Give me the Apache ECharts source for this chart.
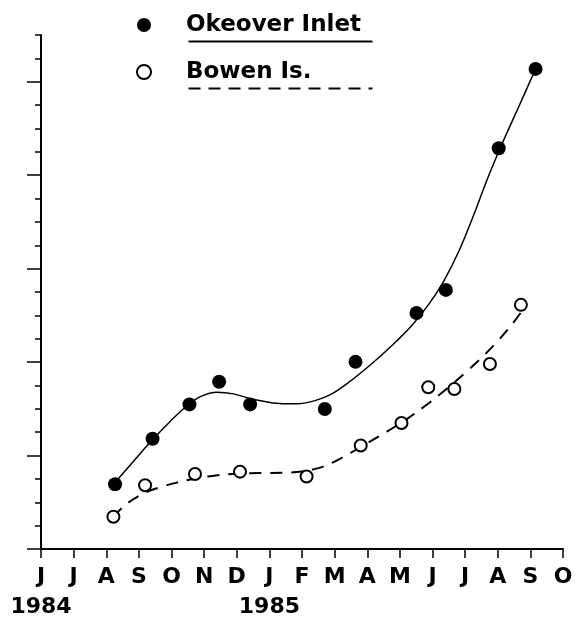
<!DOCTYPE html>
<html>
<head>
<meta charset="utf-8">
<script src="https://cdn.jsdelivr.net/npm/echarts@6/dist/echarts.min.js"></script>
<style>
html,body{margin:0;padding:0;background:#fff;}
#chart{width:576px;height:623px;}
</style>
</head>
<body>
<div id="chart"></div>
<script>
// Month ticks: index 0 = June 1984 ... index 16 = October 1985
const monthLabels = ['J','J','A','S','O','N','D','J','F','M','A','M','J','J','A','S','O'];
const yearTickValues = [0, 7];
const yearLabels = ['1984', '1985'];
const yMajorTicks = [0, 4, 8, 12, 16, 20];

// Observed points [month index, value]
const okeoverPoints = [
  [2.27, 2.77], [3.42, 4.72], [4.55, 6.19], [5.46, 7.16], [6.41, 6.19],
  [8.70, 5.99], [9.64, 8.01], [11.51, 10.10], [12.41, 11.09], [14.03, 17.15], [15.16, 20.55]
];
const bowenPoints = [
  [2.22, 1.38], [3.19, 2.73], [4.72, 3.21], [6.10, 3.31], [8.14, 3.10],
  [9.80, 4.43], [11.05, 5.39], [11.87, 6.92], [12.67, 6.85], [13.76, 7.92], [14.71, 10.45]
];

// Fitted curves
const okeoverCurve = [
  [2.27, 2.85], [2.85, 3.78], [3.40, 4.65], [3.95, 5.45], [4.45, 6.10], [4.90, 6.53],
  [5.40, 6.71], [5.90, 6.64], [6.40, 6.44], [6.90, 6.30], [7.40, 6.22], [7.90, 6.22],
  [8.40, 6.35], [8.90, 6.63], [9.40, 7.10], [9.90, 7.65], [10.40, 8.25], [10.90, 8.90],
  [11.40, 9.62], [11.90, 10.50], [12.35, 11.48], [12.80, 12.72], [13.25, 14.25],
  [13.70, 15.90], [14.15, 17.40], [14.65, 18.95], [15.16, 20.55]
];
const bowenCurve = [
  [2.21, 1.37], [2.50, 1.78], [2.84, 2.14], [3.20, 2.42], [3.60, 2.62], [4.10, 2.82],
  [4.70, 3.01], [5.30, 3.14], [6.00, 3.22], [6.70, 3.25], [7.40, 3.26], [8.00, 3.32],
  [8.50, 3.46], [9.00, 3.74], [9.50, 4.12], [10.00, 4.53], [10.60, 5.02], [11.20, 5.55],
  [11.80, 6.15], [12.40, 6.82], [13.00, 7.54], [13.50, 8.18], [14.00, 8.90],
  [14.40, 9.55], [14.70, 10.10]
];

const FONT = 'DejaVu Sans';
const chart = echarts.init(document.getElementById('chart'), null, {renderer: 'canvas'});

chart.setOption({
  animation: false,
  backgroundColor: '#fff',
  grid: {left: 41, top: 35, width: 522, height: 514, containLabel: false},
  legend: {
    orient: 'vertical',
    left: 131,
    top: 7,
    itemWidth: 14,
    itemHeight: 14,
    itemGap: 21,
    data: ['Okeover Inlet', 'Bowen Is.'],
    textStyle: {fontFamily: FONT, fontWeight: 'bold', fontSize: 23, lineHeight: 26, color: '#000', padding: [0, 0, 0, 30]},
    selectedMode: false
  },
  xAxis: [
    {
      type: 'value',
      min: 0,
      max: 16,
      interval: 1,
      position: 'bottom',
      splitLine: {show: false},
      axisLine: {show: true, onZero: false, lineStyle: {color: '#000', width: 2}},
      axisTick: {show: true, length: 9, lineStyle: {color: '#000', width: 1.5}},
      axisLabel: {
        show: true,
        margin: 17,
        hideOverlap: false,
        showMinLabel: true,
        showMaxLabel: true,
        fontFamily: FONT, fontWeight: 'bold', fontSize: 22, color: '#000',
        formatter: function (v) { return monthLabels[Math.round(v)]; }
      }
    },
    {
      type: 'value',
      min: 0,
      max: 16,
      position: 'bottom',
      offset: 0,
      splitLine: {show: false},
      axisLine: {show: false},
      axisTick: {show: false},
      axisLabel: {
        show: true,
        margin: 47,
        customValues: yearTickValues,
        fontFamily: FONT, fontWeight: 'bold', fontSize: 22, color: '#000',
        formatter: function (v) { return yearLabels[yearTickValues.indexOf(Math.round(v))]; }
      }
    }
  ],
  yAxis: [
    {
      type: 'value',
      min: 0,
      max: 22,
      interval: 1,
      position: 'left',
      splitLine: {show: false},
      axisLine: {show: true, onZero: false, lineStyle: {color: '#000', width: 2}},
      axisTick: {show: true, length: 6, lineStyle: {color: '#000', width: 1.5}},
      axisLabel: {show: false}
    },
    {
      type: 'value',
      min: 0,
      max: 22,
      position: 'left',
      offset: 0,
      splitLine: {show: false},
      axisLine: {show: false},
      axisTick: {show: true, length: 14, customValues: yMajorTicks, lineStyle: {color: '#000', width: 1.5}},
      axisLabel: {show: false}
    }
  ],
  series: [
    {
      name: 'Okeover Inlet curve',
      type: 'line',
      data: okeoverCurve,
      smooth: 0.35,
      showSymbol: false,
      symbol: 'none',
      lineStyle: {color: '#000', width: 1.5},
      z: 2
    },
    {
      name: 'Bowen Is. curve',
      type: 'line',
      data: bowenCurve,
      smooth: 0.35,
      showSymbol: false,
      symbol: 'none',
      lineStyle: {color: '#000', width: 2, type: [12, 9]},
      z: 2
    },
    {
      name: 'Okeover Inlet',
      type: 'scatter',
      data: okeoverPoints,
      symbol: 'circle',
      symbolSize: 14,
      itemStyle: {color: '#000', opacity: 1},
      z: 3
    },
    {
      name: 'Bowen Is.',
      type: 'scatter',
      data: bowenPoints,
      symbol: 'circle',
      symbolSize: 12,
      itemStyle: {color: '#fff', borderColor: '#000', borderWidth: 2, opacity: 1},
      z: 3
    }
  ],
  graphic: [
    {type: 'line', left: 186, top: 39, shape: {x1: 0, y1: 0, x2: 184, y2: 0}, style: {stroke: '#000', lineWidth: 2}},
    {type: 'line', left: 186, top: 86, shape: {x1: 0, y1: 0, x2: 184, y2: 0}, style: {stroke: '#000', lineWidth: 2, lineDash: [12, 8]}}
  ]
});
</script>
</body>
</html>
